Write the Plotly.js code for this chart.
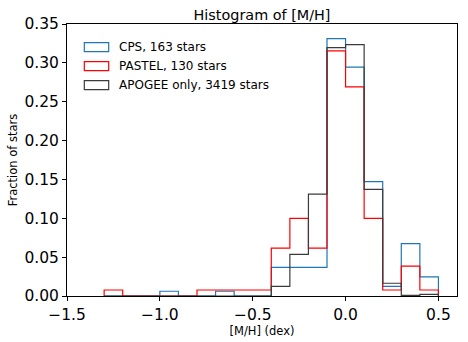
<!DOCTYPE html>
<html>
<head>
<meta charset="utf-8">
<script src="https://cdn.plot.ly/plotly-3.0.1.min.js"></script>
<style>html,body{margin:0;padding:0;background:#fff;}#chart{width:468px;height:342px;}</style>
</head>
<body>
<div id="chart"></div>
<script>
// Bin edges of the [M/H] histogram (dex)
const binEdges = [-1.3, -1.2, -1.1, -1.0, -0.9, -0.8, -0.7, -0.6, -0.5, -0.4, -0.3, -0.2, -0.1, 0.0, 0.1, 0.2, 0.3, 0.4, 0.5];
// Fraction of stars per bin (18 bins)
const cpsFrac    = [0, 0, 0, 0.0061, 0, 0, 0.0061, 0, 0, 0.0368, 0.0368, 0.0368, 0.3313, 0.2945, 0.1472, 0.0123, 0.0675, 0.0245];
const pastelFrac = [0.0077, 0, 0, 0, 0, 0.0077, 0.0077, 0.0077, 0.0077, 0.0615, 0.1000, 0.0615, 0.3154, 0.2692, 0.1000, 0.0077, 0.0385, 0.0077];
const apogeeFrac = [0, 0, 0, 0, 0, 0, 0, 0, 0, 0.0123, 0.0535, 0.1310, 0.3197, 0.3235, 0.1372, 0.0164, 0.0009, 0.0020];
const seriesNames = ["CPS, 163 stars", "PASTEL, 130 stars", "APOGEE only, 3419 stars"];
const seriesColors = ["#1f77b4", "#ff0000", "#3b3b3b"];
const xTicks = [-1.5, -1.0, -0.5, 0.0, 0.5];
const yTicks = [0, 0.05, 0.10, 0.15, 0.20, 0.25, 0.30, 0.35];

function stepTrace(vals, name, color) {
  const x = [binEdges[0]].concat(binEdges);
  const y = [0].concat(vals).concat([0]);
  return {x: x, y: y, type: 'scatter', mode: 'lines', name: name,
          line: {shape: 'hv', color: color, width: 1.2}, showlegend: false, hoverinfo: 'skip'};
}

const data = [
  stepTrace(cpsFrac, seriesNames[0], seriesColors[0]),
  stepTrace(pastelFrac, seriesNames[1], seriesColors[1]),
  stepTrace(apogeeFrac, seriesNames[2], seriesColors[2])
];

// legend drawn as outlined boxes + text (matplotlib patch-style)
const legY = [0.9147, 0.8449, 0.7750];
const shapes = [], annotations = [];
for (let i = 0; i < 3; i++) {
  shapes.push({type: 'rect', xref: 'paper', yref: 'paper', x0: 0.0444, x1: 0.1069,
               y0: legY[i] - 0.0165, y1: legY[i] + 0.0165, line: {color: seriesColors[i], width: 1.2}, fillcolor: 'rgba(0,0,0,0)'});
  annotations.push({xref: 'paper', yref: 'paper', x: 0.127, y: legY[i], xanchor: 'left', yanchor: 'middle',
                    text: seriesNames[i], showarrow: false, font: {family: 'DejaVu Sans', size: 12, color: '#000'}});
}

const layout = {
  width: 468, height: 342,
  margin: {l: 67, r: 11, t: 24, b: 46},
  paper_bgcolor: '#fff', plot_bgcolor: '#fff',
  font: {family: 'DejaVu Sans', color: '#000'},
  title: {text: 'Histogram of [M/H]', font: {family: 'DejaVu Sans', size: 14.4, color: '#000'},
          x: 0.5, xref: 'paper', xanchor: 'center', y: 1, yref: 'paper', yanchor: 'bottom', pad: {b: 4}},
  xaxis: {range: [-1.5, 0.6], tickvals: xTicks, tickformat: '.1f', ticks: 'outside', ticklen: 4, tickwidth: 1,
          tickcolor: '#000', showline: true, mirror: true, linecolor: '#000', linewidth: 1, showgrid: false, zeroline: false,
          tickfont: {family: 'DejaVu Sans', size: 15.5, color: '#000'},
          title: {text: '[M/H] (dex)', font: {family: 'DejaVu Sans', size: 11.5, color: '#000'}, standoff: 4}},
  yaxis: {range: [0, 0.35], tickvals: yTicks, tickformat: '.2f', ticks: 'outside', ticklen: 4, tickwidth: 1,
          tickcolor: '#000', showline: true, mirror: true, linecolor: '#000', linewidth: 1, showgrid: false, zeroline: false,
          tickfont: {family: 'DejaVu Sans', size: 15.5, color: '#000'},
          title: {text: 'Fraction of stars', font: {family: 'DejaVu Sans', size: 11.5, color: '#000'}, standoff: 4}},
  shapes: shapes,
  annotations: annotations,
  showlegend: false
};

Plotly.newPlot('chart', data, layout, {displayModeBar: false, staticPlot: true});
</script>
</body>
</html>
